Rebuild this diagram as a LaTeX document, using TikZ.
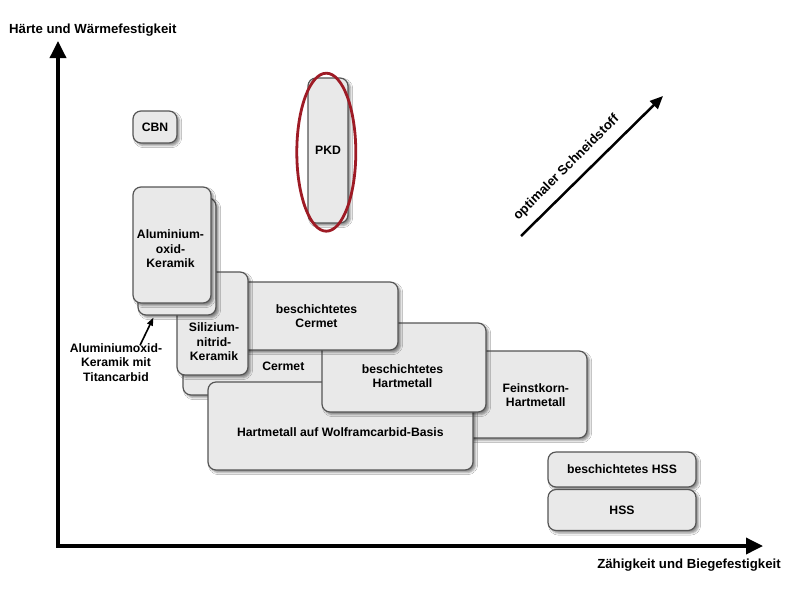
\documentclass[tikz,border=0pt]{standalone}
\usepackage{fontspec}
\setmainfont{Liberation Sans}
\usetikzlibrary{arrows.meta,shapes.geometric,shadows.blur}
\definecolor{boxfill}{HTML}{E9E9E9}
\definecolor{boxline}{HTML}{555555}
\definecolor{ringred}{HTML}{9E1B25}
\begin{document}
\begin{tikzpicture}[x=1pt,y=-1pt,
  box/.style={draw=boxline, line width=1.2pt, fill=boxfill, rounded corners=8pt,
    inner sep=0pt, align=center, font=\fontsize{12.2}{14.5}\selectfont\bfseries,
    blur shadow={shadow xshift=2.5pt, shadow yshift=-2.5pt, shadow blur steps=4, shadow opacity=45}},
  lbl/.style={inner sep=0pt, align=center, font=\fontsize{12.2}{14.5}\selectfont\bfseries},
  axlbl/.style={inner sep=0pt, align=center, font=\fontsize{13.2}{15}\selectfont\bfseries},
  axis/.style={line width=3.5pt, -{Triangle[length=17pt,width=16pt]}},
  diag/.style={line width=2.5pt, -{Triangle[length=13pt,width=11pt]}},
  ptr/.style={line width=1.6pt, -{Triangle[length=8pt,width=6pt]}}
]
\useasboundingbox (0,0) rectangle (799,600);
\fill[white] (0,0) rectangle (799,600);

% axes
\coordinate (origin) at (58,546);
\coordinate (ytop) at (58,41);
\coordinate (xend) at (763,546);
\draw[axis, line cap=rect] (origin) -- (ytop);
\draw[axis] (origin) -- (xend);
\node[axlbl, anchor=west] (ylab) at (9,30) {Härte und Wärmefestigkeit};
\node[axlbl] (xlab) at (689,565) {Zähigkeit und Biegefestigkeit};

% optimal direction
\coordinate (d0) at (521,236);
\coordinate (d1) at (663,96);
\draw[diag] (d0) -- (d1);
\node[axlbl, rotate=45] (optlab) at (566.5,168) {optimaler Schneidstoff};

% boxes (back to front)
\node[box, minimum width=44, minimum height=32] (cbn) at (155,127) {CBN};
\node[box, minimum width=40, minimum height=145] (pkd) at (328,150.5) {PKD};
\node[draw=ringred, line width=2.8pt, ellipse, inner sep=0pt, minimum width=59, minimum height=158] (ring) at (326.3,152.2) {};

\node[box, minimum width=200, minimum height=105] (cermet) at (283,342.5) {};
\node[lbl] (cermetlab) at (283.3,366.7) {Cermet};
\node[box, minimum width=147, minimum height=87] (fein) at (513.5,394.5) {};
\node[lbl] (feinlab) at (535.8,395) {Feinstkorn-\\Hartmetall};
\node[box, minimum width=265, minimum height=88] (hmw) at (340.5,426) {};
\node[lbl] (hmwlab) at (340.3,432.3) {Hartmetall auf Wolframcarbid-Basis};
\node[box, minimum width=164, minimum height=89] (bhm) at (404,367.5) {};
\node[lbl] (bhmlab) at (402.5,376.3) {beschichtetes\\Hartmetall};
\node[box, minimum width=163, minimum height=68] (bcermet) at (316.5,316) {beschichtetes\\Cermet};
\node[box, minimum width=71, minimum height=103] (sin) at (212.5,323.5) {};
\node[lbl] (sinlab) at (214,341.7) {Silizium-\\nitrid-\\Keramik};
\node[box, minimum width=78, minimum height=117] (alti) at (177,256.5) {};
\node[box, minimum width=78, minimum height=116] (alox) at (172,245) {};
\node[lbl] (aloxlab) at (170.5,249) {Aluminium-\\oxid-\\Keramik};

\node[box, minimum width=148, minimum height=35] (bhss) at (622,469.5) {beschichtetes HSS};
\node[box, minimum width=148, minimum height=41] (hss) at (622,510) {HSS};

% annotation for Al2O3 + TiC
\node[lbl] (altilab) at (116,362.5) {Aluminiumoxid-\\Keramik mit\\Titancarbid};
\draw[ptr] ([xshift=24pt, yshift=-2pt]altilab.north) -- ([xshift=16pt, yshift=-2pt]alti.south west);
\end{tikzpicture}
\end{document}
